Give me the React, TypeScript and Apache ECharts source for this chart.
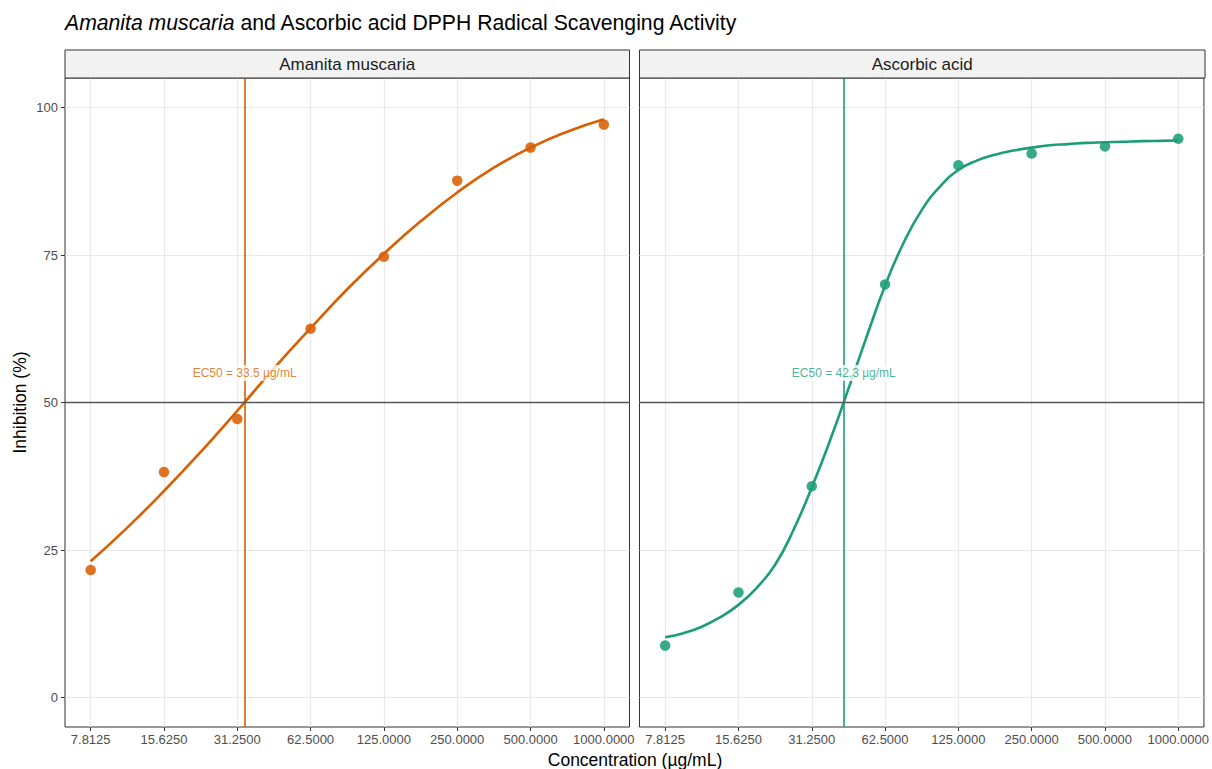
import React, { useEffect, useRef } from "react";
import * as echarts from "echarts";

// ---- data ----
const concentrations = [7.8125, 15.625, 31.25, 62.5, 125, 250, 500, 1000];
const tickLabels = ["7.8125", "15.6250", "31.2500", "62.5000", "125.0000", "250.0000", "500.0000", "1000.0000"];
const yTicks = [0, 25, 50, 75, 100];
const panelNames = ["Amanita muscaria", "Ascorbic acid"];
const panelColors = ["#D95F02", "#1B9E77"];

const amanitaObserved = [21.6, 38.2, 47.2, 62.5, 74.7, 87.6, 93.2, 97.1];
const ascorbicObserved = [8.8, 17.8, 35.8, 70.0, 90.2, 92.2, 93.4, 94.7];

// fitted curves at log2 steps above the lowest concentration
const amanitaFitSteps = [0, 0.5, 1, 1.5, 2, 2.5, 3, 3.5, 4, 4.5, 5, 5.5, 6, 6.5, 7];
const amanitaFit = [23.1, 28.8, 35.0, 41.6, 48.6, 55.8, 62.6, 69.2, 75.2, 80.7, 85.6, 89.8, 93.2, 95.9, 98.0];
const ascorbicFitSteps = [
  0, 0.25, 0.5, 0.75, 1, 1.25, 1.5, 1.75, 2, 2.25, 2.5, 2.75, 3, 3.25,
  3.5, 3.75, 4, 4.25, 4.5, 4.75, 5, 5.25, 5.5, 5.75, 6, 6.25, 6.5, 6.75, 7,
];
const ascorbicFit = [
  10.2, 10.9, 12.0, 13.6, 15.7, 18.6, 22.5, 28.4, 35.6, 43.6, 52.3, 61.2, 69.8, 77.0,
  82.6, 86.6, 89.4, 91.0, 92.0, 92.7, 93.2, 93.6, 93.8, 94.0, 94.1, 94.2, 94.3, 94.35, 94.4,
];

const ec50Values = [33.5, 42.3];
const ec50LabelY = 55;
const ec50Ref = 50;

const observed = [amanitaObserved, ascorbicObserved];
const fitSteps = [amanitaFitSteps, ascorbicFitSteps];
const fits = [amanitaFit, ascorbicFit];

const FONT = "Liberation Sans, Arial, Helvetica, sans-serif";

export default function App() {
  const ref = useRef<HTMLDivElement>(null);

  useEffect(() => {
    if (!ref.current) return;
    const chart = echarts.init(ref.current, undefined, { renderer: "svg" });

    const xs = concentrations.map((c) => Math.log2(c));
    const pad = (xs[xs.length - 1] - xs[0]) * 0.05;
    const fmtX = (v: number) => {
      const i = xs.findIndex((x) => Math.abs(x - v) < 1e-6);
      return i >= 0 ? tickLabels[i] : "";
    };

    const panels = [
      { left: 65, width: 564.5 },
      { left: 639.5, width: 565.5 },
    ];
    const top = 78;
    const height = 649;
    const gridLine = { show: true, lineStyle: { color: "#E8E8E8", width: 1.2 } };

    const grids = panels.map((p) => ({
      left: p.left,
      top,
      width: p.width,
      height,
      show: true,
      borderColor: "#333333",
      borderWidth: 1,
      backgroundColor: "#ffffff",
    }));

    const xAxes = panels.map((_, i) => ({
      type: "value",
      gridIndex: i,
      min: xs[0] - pad,
      max: xs[xs.length - 1] + pad,
      axisLine: { show: false, onZero: false },
      axisTick: { show: true, customValues: xs, length: 4, lineStyle: { color: "#333333" } },
      axisLabel: {
        customValues: xs,
        formatter: fmtX,
        color: "#4D4D4D",
        fontSize: 13,
        fontFamily: FONT,
        margin: 6,
      },
      splitLine: gridLine,
    }));

    const yAxes = panels.map((_, i) => ({
      type: "value",
      gridIndex: i,
      min: -5,
      max: 105,
      axisLine: { show: false, onZero: false },
      axisTick: { show: i === 0, customValues: yTicks, length: 4, lineStyle: { color: "#333333" } },
      axisLabel: {
        show: i === 0,
        customValues: yTicks,
        color: "#4D4D4D",
        fontSize: 13,
        fontFamily: FONT,
        margin: 7,
      },
      splitLine: gridLine,
      name: i === 0 ? "Inhibition (%)" : "",
      nameLocation: "middle",
      nameGap: 36,
      nameRotate: 90,
      nameTextStyle: { color: "#000000", fontSize: 17.5, fontFamily: FONT },
    }));

    const series: any[] = [];
    panels.forEach((_, i) => {
      const color = panelColors[i];
      const ecx = Math.log2(ec50Values[i]);
      series.push({
        type: "line",
        xAxisIndex: i,
        yAxisIndex: i,
        data: fitSteps[i].map((s, k) => [xs[0] + s, fits[i][k]]),
        showSymbol: false,
        smooth: 0.5,
        lineStyle: { color, width: 2.6 },
        z: 3,
        markLine: {
          silent: true,
          symbol: ["none", "none"],
          label: { show: false },
          animation: false,
          data: [
            { xAxis: ecx, lineStyle: { color, width: 1.6, type: "solid" } },
            { yAxis: ec50Ref, lineStyle: { color: "#555555", width: 1.3, type: "solid" } },
          ],
        },
      });
      series.push({
        type: "scatter",
        xAxisIndex: i,
        yAxisIndex: i,
        data: xs.map((x, k) => [x, observed[i][k]]),
        symbolSize: 10.5,
        itemStyle: { color, opacity: 0.88 },
        z: 4,
      });
      series.push({
        type: "scatter",
        xAxisIndex: i,
        yAxisIndex: i,
        data: [[ecx, ec50LabelY]],
        symbolSize: 0,
        itemStyle: { color: "transparent" },
        z: 5,
        label: {
          show: true,
          position: "inside",
          formatter: `EC50 = ${ec50Values[i].toFixed(1)} µg/mL`,
          color,
          fontSize: 12,
          fontFamily: FONT,
          backgroundColor: "#ffffff",
          padding: [2, 3],
        },
      });
    });

    const graphic: any[] = [];
    panels.forEach((p, i) => {
      graphic.push({
        type: "rect",
        shape: { x: p.left, y: 50, width: p.width, height: 28 },
        style: { fill: "#F2F2F2", stroke: "#333333", lineWidth: 1 },
        z: 10,
      });
      graphic.push({
        type: "text",
        x: p.left + p.width / 2,
        y: 64,
        style: {
          text: panelNames[i],
          fill: "#1A1A1A",
          fontSize: 17,
          fontFamily: FONT,
          align: "center",
          verticalAlign: "middle",
        },
        z: 11,
      });
    });
    graphic.push({
      type: "text",
      x: (panels[0].left + panels[1].left + panels[1].width) / 2,
      y: 760,
      style: {
        text: "Concentration (µg/mL)",
        fill: "#000000",
        fontSize: 17.5,
        fontFamily: FONT,
        align: "center",
        verticalAlign: "middle",
      },
    });

    chart.setOption({
      animation: false,
      backgroundColor: "#ffffff",
      title: {
        text: "{i|Amanita muscaria}{n| and Ascorbic acid DPPH Radical Scavenging Activity}",
        left: 65,
        top: 12,
        padding: 0,
        textStyle: {
          fontWeight: "normal",
          rich: {
            i: { fontStyle: "italic", fontWeight: "normal", fontSize: 21.2, fontFamily: FONT, color: "#000000" },
            n: { fontWeight: "normal", fontSize: 21.2, fontFamily: FONT, color: "#000000" },
          },
        },
      },
      grid: grids,
      xAxis: xAxes,
      yAxis: yAxes,
      series,
      graphic,
    });

    return () => chart.dispose();
  }, []);

  return (
    <div
      ref={ref}
      style={{ position: "fixed", left: 0, top: 0, width: 1212, height: 769, background: "#fff" }}
    />
  );
}
